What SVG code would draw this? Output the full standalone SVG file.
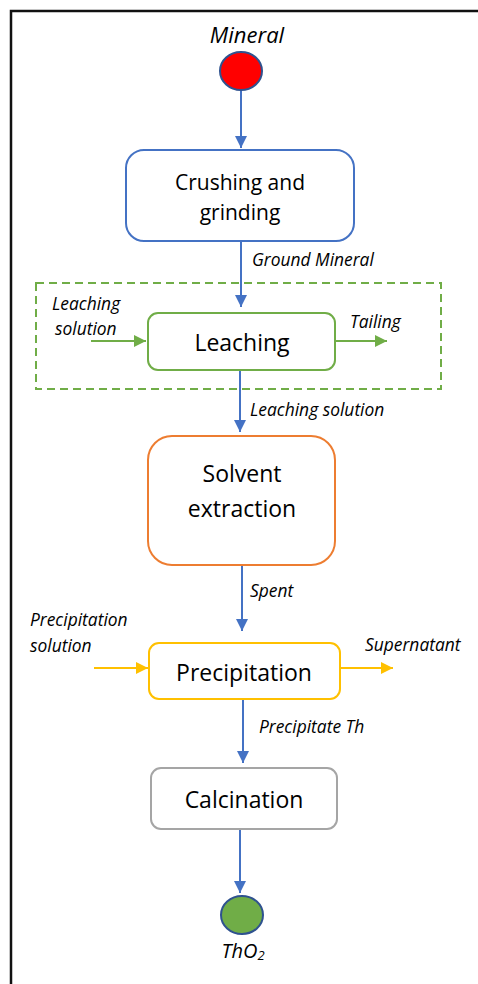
<svg xmlns="http://www.w3.org/2000/svg" width="478" height="984" viewBox="0 0 478 984">
<style>
.box{fill:#fff;stroke-width:2}
.t{font-family:"Open Sans","Liberation Sans",sans-serif;fill:#000;text-anchor:middle}
.l{font-family:"Open Sans","Liberation Sans",sans-serif;font-style:italic;fill:#000;font-size:17.4px}
.blue{stroke:#4472C4;stroke-width:2;fill:none}
.green{stroke:#70AD47;stroke-width:2;fill:none}
.gold{stroke:#FFC000;stroke-width:2;fill:none}
</style>
<defs>
<marker id="ab" viewBox="0 0 12 12" refX="12" refY="6" markerWidth="12" markerHeight="12" markerUnits="userSpaceOnUse" orient="auto"><path d="M0,0L12,6L0,12z" fill="#4472C4"/></marker>
<marker id="ag" viewBox="0 0 12 12" refX="12" refY="6" markerWidth="12" markerHeight="12" markerUnits="userSpaceOnUse" orient="auto"><path d="M0,0L12,6L0,12z" fill="#70AD47"/></marker>
<marker id="ay" viewBox="0 0 12 12" refX="12" refY="6" markerWidth="12" markerHeight="12" markerUnits="userSpaceOnUse" orient="auto"><path d="M0,0L12,6L0,12z" fill="#FFC000"/></marker>
</defs>
<rect width="478" height="984" fill="#fff"/>
<path d="M11,990V11H490" fill="none" stroke="#111" stroke-width="2.5"/>
<g id="group-leaching">
<rect x="36" y="283" width="405" height="106" fill="none" stroke="#70AD47" stroke-width="2" stroke-dasharray="8,5"/>
</g>
<g id="connectors">
<line class="blue" x1="241" y1="90" x2="241" y2="148" marker-end="url(#ab)"/>
<line class="blue" x1="241" y1="241" x2="241" y2="307" marker-end="url(#ab)"/>
<line class="blue" x1="240" y1="370" x2="240" y2="432" marker-end="url(#ab)"/>
<line class="blue" x1="242" y1="565" x2="242" y2="631" marker-end="url(#ab)"/>
<line class="blue" x1="243" y1="699" x2="243" y2="763" marker-end="url(#ab)"/>
<line class="blue" x1="240" y1="828" x2="240" y2="893" marker-end="url(#ab)"/>
<line class="green" x1="91" y1="341" x2="146" y2="341" marker-end="url(#ag)"/>
<line class="green" x1="334" y1="341" x2="387" y2="341" marker-end="url(#ag)"/>
<line class="gold" x1="94" y1="668" x2="148" y2="668" marker-end="url(#ay)"/>
<line class="gold" x1="340" y1="668" x2="393" y2="668" marker-end="url(#ay)"/>
<text class="l" x="252" y="266">Ground Mineral</text>
<text class="l" x="52" y="310">Leaching</text>
<text class="l" x="55" y="335">solution</text>
<text class="l" x="350" y="328">Tailing</text>
<text class="l" x="250" y="416">Leaching solution</text>
<text class="l" x="250" y="597">Spent</text>
<text class="l" x="30" y="626">Precipitation</text>
<text class="l" x="30" y="652">solution</text>
<text class="l" x="365" y="651">Supernatant</text>
<text class="l" x="259" y="733">Precipitate Th</text>
</g>
<g id="mineral">
<ellipse cx="241" cy="71" rx="21" ry="19" fill="#FF0000" stroke="#2F528F" stroke-width="2"/>
<text class="l" x="247" y="43" style="font-size:22px;text-anchor:middle">Mineral</text>
</g>
<g id="crushing">
<rect class="box" x="126" y="150" width="228" height="91" rx="18" stroke="#4472C4"/>
<text class="t" x="240" y="190" font-size="21">Crushing and</text>
<text class="t" x="240" y="220" font-size="21">grinding</text>
</g>
<g id="leaching">
<rect class="box" x="148" y="313" width="187" height="57" rx="10" stroke="#70AD47"/>
<text class="t" x="242" y="351" font-size="23">Leaching</text>
</g>
<g id="solvent">
<rect class="box" x="148" y="436" width="187" height="129" rx="24" stroke="#ED7D31"/>
<text class="t" x="242" y="482" font-size="23">Solvent</text>
<text class="t" x="242" y="517" font-size="23">extraction</text>
</g>
<g id="precipitation">
<rect class="box" x="149" y="643" width="191" height="56" rx="10" stroke="#FFC000"/>
<text class="t" x="244" y="681" font-size="23">Precipitation</text>
</g>
<g id="calcination">
<rect class="box" x="151" y="768" width="186" height="61" rx="10" stroke="#A5A5A5"/>
<text class="t" x="244" y="808" font-size="23">Calcination</text>
</g>
<g id="tho2">
<ellipse cx="242" cy="915" rx="21" ry="19" fill="#70AD47" stroke="#2F528F" stroke-width="2"/>
<text class="l" x="243" y="958" style="font-size:20px;text-anchor:middle">ThO<tspan font-size="13" dy="2">2</tspan></text>
</g>
</svg>
